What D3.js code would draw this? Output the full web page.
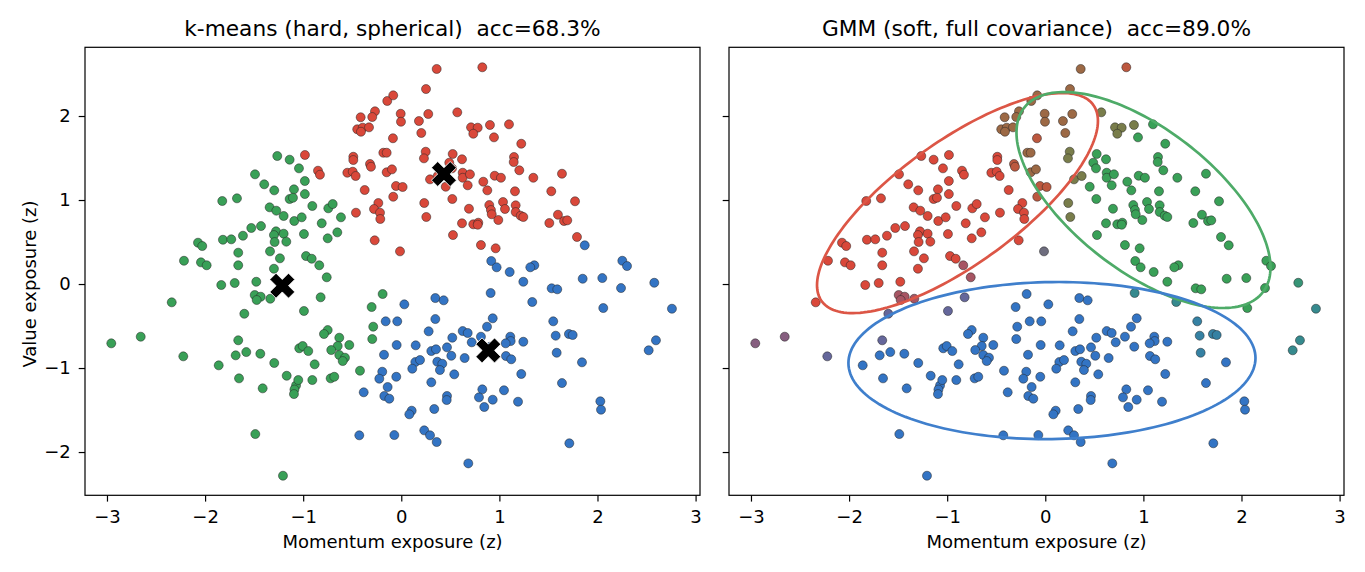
<!DOCTYPE html>
<html>
<head>
<meta charset="utf-8">
<script src="https://cdn.jsdelivr.net/npm/d3@7"></script>
<style>
  html, body { margin: 0; padding: 0; background: #fff; }
  text { font-family: "DejaVu Sans", sans-serif; fill: #000; white-space: pre; }
</style>
</head>
<body>
<svg id="chart" width="1365" height="572"></svg>
<script>
// ---------------- data ----------------
const titles = ["k-means (hard, spherical)  acc=68.3%", "GMM (soft, full covariance)  acc=89.0%"];
const xLabel = "Momentum exposure (z)";
const yLabel = "Value exposure (z)";
const xTicks = [-3, -2, -1, 0, 1, 2, 3];
const yTicks = [-2, -1, 0, 1, 2];

// each point: [momentum, value, GMM responsibility code]
const kmRedPoints = [
[0.361,2.560,"RG"],[0.826,2.580,"Rg"],[0.252,2.321,"RG"],[-0.143,2.179,"RG"],[-0.082,2.246,"RG"],[-0.268,2.056,"RG"],[-0.414,1.985,"RG"],[-0.296,1.988,"RG"],[-0.006,2.027,"RG"],[-0.003,1.932,"RG"],
[0.180,1.940,"RG"],[0.275,2.024,"RG"],[0.571,2.044,"rG"],[-0.449,1.842,"RG"],[-0.393,1.861,"RG"],[-0.329,1.865,"RG"],[-0.411,1.813,"RG"],[0.204,1.798,"RG"],[-0.085,1.735,"Rg"],[0.711,1.865,"rG"],
[0.779,1.861,"rG"],[0.734,1.789,"rG"],[0.904,1.893,"rG"],[0.945,1.746,"G"],[-0.982,1.536,"R"],[-0.849,1.349,"R"],[-0.829,1.301,"R"],[-0.489,1.515,"R"],[-0.489,1.476,"R"],[-0.183,1.563,"RG"],
[-0.149,1.563,"RG"],[-0.319,1.429,"Rg"],[-0.309,1.396,"Rg"],[-0.550,1.325,"R"],[-0.495,1.337,"R"],[-0.465,1.286,"R"],[-0.149,1.330,"RG"],[-0.095,1.365,"RG"],[0.249,1.575,"rG"],[0.231,1.496,"rG"],
[0.524,1.548,"G"],[0.619,1.485,"G"],[0.489,1.444,"G"],[0.517,1.377,"G"],[0.293,1.246,"rG"],[0.371,1.286,"rG"],[0.453,1.158,"G"],[0.626,1.325,"G"],[0.626,1.265,"G"],[0.700,1.306,"G"],
[0.677,1.175,"G"],[0.952,1.289,"G"],[0.836,1.218,"G"],[0.877,1.115,"G"],[1.016,1.265,"G"],[-0.054,1.167,"Rg"],[0.014,1.155,"Rg"],[-0.373,1.119,"R"],[-0.082,1.039,"Rg"],[0.234,0.964,"rG"],
[0.520,1.012,"G"],[-0.234,0.964,"R"],[-0.278,0.893,"R"],[-0.217,0.849,"R"],[-0.214,0.774,"R"],[-0.462,0.849,"R"],[0.255,0.798,"rG"],[0.690,0.896,"G"],[0.897,0.940,"G"],[0.914,0.881,"G"],
[0.922,0.830,"G"],[1.037,0.976,"G"],[0.619,0.723,"G"],[0.734,0.711,"G"],[0.785,0.730,"G"],[0.779,0.706,"G"],[0.527,0.583,"G"],[0.812,0.464,"G"],[0.962,0.425,"G"],[-0.271,0.520,"R"],
[-0.013,0.389,"X"],[1.098,1.901,"G"],[1.223,1.670,"G"],[1.149,1.512,"G"],[1.146,1.452,"G"],[1.203,1.354,"G"],[1.346,1.265,"G"],[1.638,1.313,"G"],[1.159,1.104,"G"],[1.529,1.104,"G"],
[1.771,0.985,"G"],[1.057,0.893,"G"],[1.166,0.937,"G"],[1.166,0.857,"G"],[1.217,0.813,"G"],[1.244,0.798,"G"],[0.989,0.762,"G"],[1.597,0.825,"G"],[1.509,0.726,"G"],[1.659,0.750,"G"],
[1.692,0.758,"G"],[1.791,0.560,"G"]
];

const kmGreenPoints = [
[-1.264,1.524,"R"],[-1.138,1.480,"R"],[-1.491,1.306,"R"],[-1.397,1.187,"R"],[-1.295,1.115,"R"],[-1.094,1.127,"R"],[-1.138,1.012,"R"],[-1.104,1.027,"R"],[-1.825,0.988,"R"],[-1.675,1.020,"R"],
[-1.342,0.913,"R"],[-1.274,0.873,"R"],[-1.199,0.810,"R"],[-1.091,0.750,"R"],[-1.529,0.667,"R"],[-1.430,0.690,"R"],[-1.277,0.627,"R"],[-1.298,0.583,"R"],[-1.199,0.599,"R"],[-1.172,0.504,"R"],
[-1.291,0.500,"R"],[-1.614,0.575,"R"],[-1.818,0.527,"R"],[-1.733,0.532,"R"],[-2.072,0.492,"R"],[-2.029,0.452,"R"],[-1.662,0.373,"R"],[-1.338,0.389,"R"],[-1.237,0.306,"R"],[-2.215,0.277,"R"],
[-2.042,0.258,"R"],[-1.984,0.223,"R"],[-1.662,0.223,"R"],[-1.298,0.182,"R"],[-1.835,-0.012,"R"],[-1.698,0.012,"R"],[-1.478,0.027,"R"],[-1.494,-0.131,"Rb"],[-1.433,-0.151,"Rb"],[-1.474,-0.190,"Rb"],
[-1.335,-0.175,"Rb"],[-2.340,-0.218,"R"],[-1.600,-0.354,"rB"],[-2.956,-0.706,"RB"],[-2.656,-0.627,"RB"],[-2.222,-0.861,"rB"],[-1.662,-0.670,"rB"],[-1.688,-0.849,"B"],[-1.580,-0.810,"B"],[-1.437,-0.830,"B"],
[-1.861,-0.968,"B"],[-1.295,-0.940,"B"],[-1.168,-1.092,"B"],[-1.654,-1.123,"B"],[-1.413,-1.242,"B"],[-1.073,-1.208,"B"],[-1.089,-1.256,"B"],[-1.094,-1.310,"B"],[-1.488,-1.786,"B"],[-1.206,-2.282,"B"],
[-1.043,1.377,"R"],[-0.983,1.226,"R"],[-0.983,1.071,"R"],[-0.907,0.929,"R"],[-0.744,0.901,"R"],[-0.699,0.952,"R"],[-0.615,0.794,"R"],[-1.015,0.794,"R"],[-0.811,0.723,"R"],[-0.992,0.595,"R"],
[-0.652,0.615,"R"],[-0.750,0.544,"R"],[-0.971,0.333,"R"],[-0.913,0.301,"R"],[-0.836,0.223,"Rb"],[-0.760,0.080,"Rb"],[-0.822,-0.158,"rB"],[-0.992,-0.321,"rB"],[-0.190,-0.119,"B"],[-0.302,-0.274,"B"],
[-0.286,-0.508,"B"],[-0.296,-0.655,"B"],[-0.750,-0.548,"B"],[-0.788,-0.595,"B"],[-0.632,-0.639,"B"],[-0.530,-0.726,"B"],[-0.648,-0.738,"B"],[-0.714,-0.786,"B"],[-0.632,-0.845,"B"],[-0.574,-0.877,"B"],
[-0.597,-0.917,"B"],[-1.040,-0.765,"B"],[-1.005,-0.738,"B"],[-0.948,-0.798,"B"],[-0.883,-0.956,"B"],[-0.421,-1.032,"B"],[-0.907,-1.143,"B"],[-0.720,-1.123,"B"],[-0.683,-1.104,"B"],[-1.050,-1.143,"B"]
];

const kmBluePoints = [
[0.917,0.274,"G"],[0.972,0.199,"G"],[1.870,0.461,"G"],[2.253,0.277,"G"],[2.301,0.214,"G"],[1.356,0.223,"G"],[1.315,0.199,"G"],[1.105,0.143,"G"],[1.244,0.027,"G"],[1.533,-0.051,"G"],
[1.590,-0.063,"G"],[1.849,0.063,"G"],[2.049,0.071,"G"],[2.240,-0.048,"G"],[2.579,0.015,"Gb"],[2.759,-0.294,"GB"],[1.335,-0.214,"GB"],[2.059,-0.286,"G"],[1.549,-0.444,"gB"],[1.111,-0.627,"B"],
[1.115,-0.679,"B"],[1.064,-0.706,"B"],[1.244,-0.687,"B"],[1.574,-0.615,"gB"],[1.709,-0.595,"gB"],[1.747,-0.607,"gB"],[2.596,-0.670,"GB"],[2.522,-0.789,"GB"],[1.067,-0.857,"B"],[1.121,-0.896,"B"],
[1.584,-0.818,"gB"],[1.842,-0.932,"B"],[1.223,-1.071,"B"],[1.638,-1.179,"B"],[1.047,-1.265,"B"],[1.190,-1.401,"B"],[2.029,-1.396,"B"],[2.036,-1.496,"B"],[1.713,-1.896,"B"],[0.031,-0.242,"B"],
[0.347,-0.167,"B"],[0.432,-0.194,"B"],[0.911,-0.107,"GB"],[-0.159,-0.444,"B"],[-0.041,-0.444,"B"],[0.347,-0.417,"B"],[0.932,-0.408,"B"],[0.279,-0.563,"B"],[0.626,-0.560,"B"],[0.677,-0.583,"B"],
[0.874,-0.508,"B"],[0.520,-0.639,"B"],[0.718,-0.694,"B"],[0.812,-0.627,"B"],[-0.047,-0.726,"B"],[0.147,-0.730,"B"],[-0.176,-0.842,"B"],[0.306,-0.798,"B"],[0.354,-0.777,"B"],[0.466,-0.754,"B"],
[0.510,-0.854,"B"],[0.646,-0.881,"B"],[0.143,-0.929,"B"],[0.191,-0.905,"B"],[0.112,-1.008,"B"],[0.367,-0.925,"B"],[0.418,-0.949,"B"],[0.394,-1.024,"B"],[-0.194,-1.044,"B"],[-0.224,-1.127,"B"],
[-0.051,-1.104,"B"],[0.540,-1.075,"B"],[-0.139,-1.226,"B"],[0.306,-1.170,"B"],[-0.383,-1.289,"B"],[-0.173,-1.333,"B"],[-0.122,-1.365,"B"],[0.466,-1.333,"B"],[0.463,-1.381,"B"],[0.826,-1.254,"B"],
[0.792,-1.349,"B"],[0.932,-1.377,"B"],[0.846,-1.464,"B"],[0.336,-1.488,"B"],[0.106,-1.508,"B"],[0.082,-1.551,"B"],[-0.428,-1.801,"B"],[-0.071,-1.798,"B"],[0.234,-1.742,"B"],[0.293,-1.801,"B"],
[0.361,-1.881,"B"],[0.683,-2.135,"B"],[0.907,-0.746,"B"]
];

// k-means centroids [momentum, value]
const kmCentroids = [[0.435, 1.310], [-1.213, -0.020], [0.887, -0.790]];

// GMM responsibilities (red, green, blue components) for each code
const gmmResp = {
  R: [1, 0, 0], G: [0, 1, 0], B: [0, 0, 1],
  RG: [0.62, 0.38, 0], Rg: [0.82, 0.18, 0], rG: [0.4, 0.6, 0],
  Rb: [0.7, 0, 0.3], RB: [0.5, 0, 0.5], rB: [0.3, 0, 0.7],
  GB: [0, 0.5, 0.5], Gb: [0, 0.72, 0.28], gB: [0, 0.3, 0.7],
  X: [0.35, 0.2, 0.45]
};

// GMM components: means and covariances (ellipses drawn at 2 std)
const gmmMeans = [[-0.895, 0.964], [1.001, 1.000], [0.068, -0.911]];
const gmmCovs = [
  [[0.5125, 0.350], [0.350, 0.429]],
  [[0.419, -0.260], [-0.260, 0.413]],
  [[1.076, 0.0155], [0.0155, 0.2185]]
];
const nStd = 2;

// ---------------- styles ----------------
const clusterRGB = [[217, 72, 58], [57, 160, 87], [51, 116, 196]];
const ellipseColors = ["#dc5646", "#4eab68", "#3f7fcc"];

// ---------------- drawing ----------------
const svg = d3.select("#chart");
svg.append("rect").attr("width", 1365).attr("height", 572).attr("fill", "#fff");

const panelW = 615, panelH = 448, panelTop = 47.3;
const panelLeft = [85, 729];

const x = d3.scaleLinear().domain([-3.224, 3.045]).range([0, panelW]);
const y = d3.scaleLinear().domain([-2.515, 2.818]).range([panelH, 0]);

const fmt = d3.format("d");
const rgbStr = c => `rgb(${Math.round(c[0])},${Math.round(c[1])},${Math.round(c[2])})`;
const mix = w => rgbStr([0, 1, 2].map(k => w[0] * clusterRGB[0][k] + w[1] * clusterRGB[1][k] + w[2] * clusterRGB[2][k]));

const allPts = [
  ...kmRedPoints.map(p => ({ x: p[0], y: p[1], km: 0, gmm: p[2] })),
  ...kmGreenPoints.map(p => ({ x: p[0], y: p[1], km: 1, gmm: p[2] })),
  ...kmBluePoints.map(p => ({ x: p[0], y: p[1], km: 2, gmm: p[2] }))
];

const tickFont = "18px";

panelLeft.forEach((left, pi) => {
  const g = svg.append("g").attr("transform", `translate(${left},${panelTop})`);

  // axes
  const xa = g.append("g").attr("transform", `translate(0,${panelH})`)
    .call(d3.axisBottom(x).tickValues(xTicks).tickFormat(fmt).tickSize(6.3).tickPadding(9));
  const ya = g.append("g")
    .call(d3.axisLeft(y).tickValues(yTicks).tickFormat(pi === 0 ? fmt : () => "").tickSize(6.3).tickPadding(8));
  [xa, ya].forEach(a => {
    a.select(".domain").remove();
    a.selectAll("line").attr("stroke", "#000").attr("stroke-width", 1.2);
    a.selectAll("text").style("font-family", "DejaVu Sans, sans-serif").style("font-size", tickFont).attr("fill", "#000");
  });

  const plot = g.append("g");
  plot.selectAll("circle").data(allPts).join("circle")
    .attr("cx", d => x(d.x))
    .attr("cy", d => y(d.y))
    .attr("r", 4.5)
    .attr("fill", d => pi === 0 ? rgbStr(clusterRGB[d.km]) : mix(gmmResp[d.gmm]))
    .attr("stroke", "#262626")
    .attr("stroke-opacity", 0.85)
    .attr("stroke-width", 0.6);

  if (pi === 0) {
    const sym = d3.symbol().type(d3.symbolCross).size(390);
    plot.selectAll("path.centroid").data(kmCentroids).join("path")
      .attr("class", "centroid")
      .attr("d", sym)
      .attr("transform", d => `translate(${x(d[0])},${y(d[1])}) rotate(45)`)
      .attr("fill", "#000")
      .attr("stroke", "#fff")
      .attr("stroke-width", 0.8);
  } else {
    const ts = d3.range(0, 361, 2).map(t => t * Math.PI / 180);
    const line = d3.line().x(d => x(d[0])).y(d => y(d[1])).curve(d3.curveLinearClosed);
    gmmMeans.forEach((m, k) => {
      const S = gmmCovs[k].map(r => r.map(v => v * nStd * nStd));
      const l11 = Math.sqrt(S[0][0]);
      const l21 = S[1][0] / l11;
      const l22 = Math.sqrt(S[1][1] - l21 * l21);
      const pts = ts.map(t => [m[0] + l11 * Math.cos(t), m[1] + l21 * Math.cos(t) + l22 * Math.sin(t)]);
      plot.append("path").attr("d", line(pts))
        .attr("fill", "none").attr("stroke", ellipseColors[k]).attr("stroke-width", 2.7);
    });
  }

  // frame
  g.append("rect").attr("width", panelW).attr("height", panelH)
    .attr("fill", "none").attr("stroke", "#000").attr("stroke-width", 1.2);

  // titles and labels
  g.append("text").attr("x", panelW / 2).attr("y", -11).attr("text-anchor", "middle")
    .style("font-size", "21.7px").text(titles[pi]);
  g.append("text").attr("x", panelW / 2).attr("y", panelH + 53).attr("text-anchor", "middle")
    .style("font-size", "18px").text(xLabel);
  if (pi === 0) {
    g.append("text").attr("transform", `translate(-49,${y(0)}) rotate(-90)`).attr("text-anchor", "middle")
      .style("font-size", "18px").text(yLabel);
  }
});
</script>
</body>
</html>
